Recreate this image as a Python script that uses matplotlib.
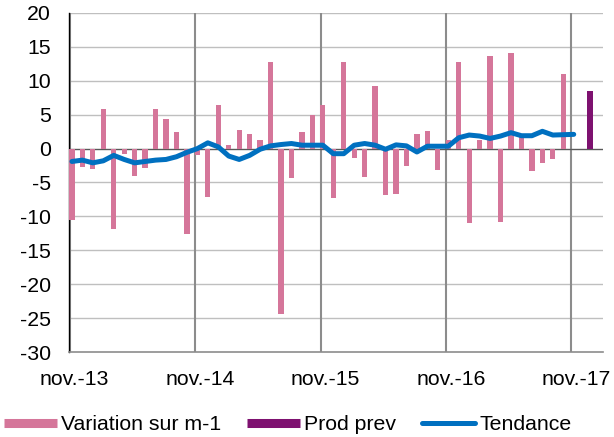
import numpy as np
import matplotlib.pyplot as plt
from matplotlib.lines import Line2D

plt.rcParams['font.family'] = ['Liberation Sans', 'DejaVu Sans']
plt.rcParams['axes.unicode_minus'] = False

# Monthly change (nov-13 .. oct-17)
variation = [-10.5, -2.7, -3.0, 5.9, -11.8, -0.8, -4.0, -2.8, 5.8, 4.4, 2.4, -12.6,
             -1.0, -7.1, 6.5, 0.5, 2.7, 2.2, 1.3, 12.8, -24.4, -4.3, 2.4, 5.0,
             6.5, -7.3, 12.8, -1.4, -4.2, 9.3, -6.8, -6.7, -2.6, 2.2, 2.6, -3.2,
             1.3, 12.7, -10.9, 1.3, 13.6, -10.8, 14.1, 2.0, -3.3, -2.1, -1.5, 11.0]

# Trend (nov-13 .. nov-17)
tendance = [-1.9, -1.7, -2.1, -1.8, -1.0, -1.6, -2.1, -1.9, -1.7, -1.6, -1.2, -0.55,
            0.0, 0.85, 0.25, -1.1, -1.6, -1.0, -0.1, 0.4, 0.6, 0.75, 0.5, 0.5,
            0.5, -0.75, -0.75, 0.5, 0.75, 0.5, -0.1, 0.55, 0.4, -0.5, 0.35, 0.35,
            0.35, 1.6, 2.0, 1.85, 1.5, 1.85, 2.35, 1.9, 1.9, 2.55, 2.0, 2.05, 2.1]

prod_prev = 8.5
prod_prev_pos = 49.55

tick_labels = ["nov.-13", "nov.-14", "nov.-15", "nov.-16", "nov.-17"]

pink = "#D5769A"
purple = "#7E1170"
blue = "#0070C0"

fig = plt.figure(figsize=(6.14, 4.37), dpi=100)
ax = fig.add_axes([69/614, 1-352/437, (603-69)/614, (352-13)/437])

x = np.arange(len(variation))
ax.bar(x, variation, width=0.5, color=pink, zorder=3)
ax.bar([prod_prev_pos], [prod_prev], width=0.5, color=purple, zorder=3)
ax.plot(np.arange(len(tendance)), tendance, color=blue, lw=3.6,
        solid_capstyle='round', solid_joinstyle='round', zorder=4)

ax.set_ylim(-30, 20)
ax.set_xlim(-0.28, 50.8)
ax.set_yticks(np.arange(-30, 21, 5))
for yv in np.arange(-25, 21, 5):
    ax.axhline(yv, color="#BFBFBF", lw=1.0, zorder=1)
ax.axhline(0, color="#595959", lw=0.9, zorder=2)

for k in range(5):
    ax.axvline(12*k - 0.22, color="#8C8C8C", lw=1.5, zorder=1)

ax.set_xticks([12*k + 0.25 for k in range(5)])
ax.set_xticklabels(tick_labels)
ax.tick_params(axis='x', length=0, pad=13, labelsize=15.3)
ax.tick_params(axis='y', length=0, pad=13, labelsize=15.3)

for s in ["top", "right"]:
    ax.spines[s].set_visible(False)
ax.spines["left"].set_color("black")
ax.spines["left"].set_linewidth(1.0)
ax.spines["bottom"].set_color("#8C8C8C")
ax.spines["bottom"].set_linewidth(1.2)

handles = [
    Line2D([0], [0], color=pink, lw=6.5, solid_capstyle='butt'),
    Line2D([0], [0], color=purple, lw=6.5, solid_capstyle='butt'),
    Line2D([0], [0], color=blue, lw=3.6, solid_capstyle='round'),
]
fig.legend(handles, ["Variation sur m-1", "Prod prev", "Tendance"],
           loc='center left', bbox_to_anchor=(4/614, 1-425/437), ncol=3,
           frameon=False, fontsize=15.3, handlelength=2.5, handletextpad=0.2,
           columnspacing=1.2, borderpad=0, borderaxespad=0)

fig.savefig("out.png", dpi=100)
